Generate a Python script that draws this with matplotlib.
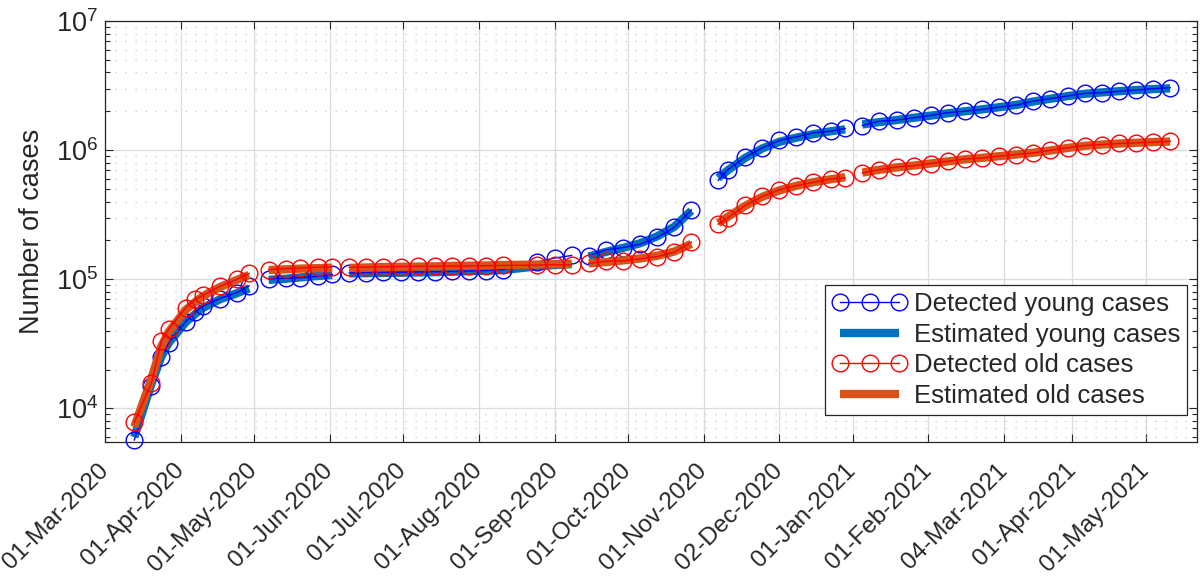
import numpy as np
import matplotlib
matplotlib.use("Agg")
import matplotlib.pyplot as plt
from matplotlib.lines import Line2D
from matplotlib.ticker import LogLocator, NullFormatter, NullLocator

plt.rcParams['font.family'] = ['Liberation Sans', 'DejaVu Sans']

# ---------------- data ----------------
dates = [
    # phase 1
    '2020-03-13', '2020-03-20', '2020-03-24', '2020-03-27', '2020-04-03',
    '2020-04-07', '2020-04-10', '2020-04-17', '2020-04-24', '2020-04-29',
    # phase 2
    '2020-05-07', '2020-05-14', '2020-05-20', '2020-05-27', '2020-06-02',
    # phase 3
    '2020-06-09', '2020-06-16', '2020-06-23', '2020-06-30', '2020-07-07',
    '2020-07-14', '2020-07-21', '2020-07-28', '2020-08-04', '2020-08-11',
    '2020-08-25', '2020-09-01', '2020-09-08',
    # phase 4
    '2020-09-15', '2020-09-22', '2020-09-29', '2020-10-06', '2020-10-13',
    '2020-10-20', '2020-10-27',
    # phase 5
    '2020-11-07', '2020-11-11', '2020-11-18', '2020-11-25', '2020-12-02',
    '2020-12-09', '2020-12-16', '2020-12-23', '2020-12-29',
    # phase 6
    '2021-01-05', '2021-01-12', '2021-01-19', '2021-01-26', '2021-02-02',
    '2021-02-09', '2021-02-16', '2021-02-23', '2021-03-02', '2021-03-09',
    '2021-03-16', '2021-03-23', '2021-03-30', '2021-04-06', '2021-04-13',
    '2021-04-20', '2021-04-27', '2021-05-04', '2021-05-11',
]
segment_sizes = [10, 5, 13, 7, 9, 19]

young_detected = [
    5700, 15000, 25000, 32000, 47000, 56000, 62000, 71000, 79000, 89000,
    100500, 102000, 103000, 105500, 109000,
    112000, 112500, 113000, 113500, 114000, 114500, 115000, 116000, 117000,
    119000, 136000, 146000, 153000,
    152000, 169000, 176000, 187000, 211000, 252000, 345000,
    583000, 707000, 881000, 1042000, 1188000, 1269000, 1362000, 1402000, 1472000,
    1552000, 1678000, 1708000, 1782000, 1857000, 1950000, 2006000, 2066000,
    2153000, 2232000, 2398000, 2505000, 2625000, 2754000, 2788000, 2853000,
    2920000, 2991000, 3046000,
]
young_estimated = [
    6000, 15500, 25000, 32000, 46500, 54000, 60000, 70000, 78000, 85000,
    99000, 101000, 103500, 106000, 108000,
    111000, 111500, 112000, 112500, 113000, 113500, 114500, 115500, 116500,
    118000, 126000, 129000, 131000,
    150000, 163000, 175000, 190000, 215000, 255000, 340000,
    610000, 700000, 870000, 1030000, 1160000, 1250000, 1330000, 1400000, 1450000,
    1580000, 1650000, 1710000, 1780000, 1850000, 1930000, 2000000, 2070000,
    2150000, 2240000, 2380000, 2500000, 2620000, 2730000, 2800000, 2860000,
    2920000, 2970000, 3010000,
]
old_detected = [
    7800, 15700, 33000, 41000, 60000, 70000, 75000, 88000, 100000, 111000,
    119000, 121000, 122500, 124000, 124500,
    124000, 124500, 125000, 125500, 126000, 126000, 126500, 127000, 127500,
    128000, 129000, 130000, 129000,
    133000, 138000, 139000, 144000, 150000, 162000, 194000,
    267000, 298000, 373000, 438000, 494000, 531000, 564000, 598000, 610000,
    667000, 707000, 741000, 759000, 787000, 820000, 856000, 871000, 897000,
    925000, 953000, 998000, 1042000, 1086000, 1106000, 1126000, 1140000,
    1152000, 1171000,
]
old_estimated = [
    7200, 17000, 30000, 39000, 58000, 67000, 74000, 87000, 99000, 108000,
    118000, 119500, 121000, 122000, 123000,
    122500, 123500, 124500, 125000, 125500, 126000, 127000, 127500, 128000,
    129000, 130000, 131000, 132000,
    133000, 136000, 140000, 145000, 152000, 164000, 188000,
    272000, 305000, 370000, 435000, 488000, 530000, 565000, 595000, 618000,
    670000, 705000, 735000, 760000, 788000, 818000, 850000, 872000, 898000,
    925000, 955000, 995000, 1040000, 1080000, 1105000, 1125000, 1140000,
    1155000, 1165000,
]

tick_dates = ['2020-03-01', '2020-04-01', '2020-05-01', '2020-06-01', '2020-07-01',
              '2020-08-01', '2020-09-01', '2020-10-01', '2020-11-01', '2020-12-02',
              '2021-01-01', '2021-02-01', '2021-03-04', '2021-04-01', '2021-05-01']
tick_labels = ['01-Mar-2020', '01-Apr-2020', '01-May-2020', '01-Jun-2020', '01-Jul-2020',
               '01-Aug-2020', '01-Sep-2020', '01-Oct-2020', '01-Nov-2020', '02-Dec-2020',
               '01-Jan-2021', '01-Feb-2021', '04-Mar-2021', '01-Apr-2021', '01-May-2021']

legend_labels = ['Detected young cases', 'Estimated young cases',
                 'Detected old cases', 'Estimated old cases']

# ---------------- styling ----------------
C_DET_Y = '#0000FF'
C_EST_Y = '#0072BD'
C_DET_O = '#FF0000'
C_EST_O = '#D95319'
AX_COL = '#262626'

fig = plt.figure(figsize=(12.03, 5.80), dpi=100)
ax = fig.add_axes([105 / 1203, (580 - 442) / 580, 1092 / 1203, 421 / 580])

x_all = np.array(dates, dtype='datetime64[D]')
yd = np.array(young_detected, float)
ye = np.array(young_estimated, float)
od = np.array(old_detected, float)
oe = np.array(old_estimated, float)

EST_LW = 6.0
MS = 12
DET_LW = 1.0
start = 0
for n in segment_sizes:
    sl = slice(start, start + n)
    xs = x_all[sl]
    ax.plot(xs, ye[sl], '-', color=C_EST_Y, lw=EST_LW, solid_capstyle='butt', zorder=2)
    ax.plot(xs, yd[sl], '-o', color=C_DET_Y, lw=DET_LW, ms=MS, mfc='none', mew=1.0,
            zorder=3, clip_on=False)
    ax.plot(xs, oe[sl], '-', color=C_EST_O, lw=EST_LW, solid_capstyle='butt', zorder=4)
    ax.plot(xs, od[sl], '-o', color=C_DET_O, lw=DET_LW, ms=MS, mfc='none', mew=1.0,
            zorder=5, clip_on=False)
    start += n

ax.set_yscale('log')
ax.set_ylim(5500, 1e7)
ax.set_xlim(np.datetime64('2020-03-01'), np.datetime64('2021-05-22'))

ax.set_xticks(np.array(tick_dates, dtype='datetime64[D]'))
ax.xaxis.set_minor_locator(NullLocator())
ax.set_xticklabels(tick_labels, rotation=45, ha='right', va='center',
                   rotation_mode='anchor', fontsize=17.5, color=AX_COL)
ax.yaxis.set_major_locator(LogLocator(base=10, numticks=10))
ax.yaxis.set_minor_locator(LogLocator(base=10, subs=np.arange(2, 10), numticks=20))
ax.yaxis.set_minor_formatter(NullFormatter())
ax.tick_params(axis='y', labelsize=19.5, colors=AX_COL)
ax.tick_params(axis='both', which='both', direction='in', top=True, right=True,
               color=AX_COL)
ax.tick_params(axis='both', which='major', length=6, width=0.8)
ax.tick_params(axis='y', which='minor', length=3.5, width=0.8)
ax.tick_params(axis='x', which='major', pad=18)
ax.tick_params(axis='y', which='major', pad=5)

ax.grid(True, which='major', color='#DCDCDC', lw=0.9, zorder=0)
ax.grid(True, which='minor', axis='y', color='#C4C4C4', lw=0.9,
        linestyle=(0, (1, 7)), zorder=0)
ax.set_axisbelow(True)
for s in ax.spines.values():
    s.set_color(AX_COL)
    s.set_linewidth(0.9)

ax.set_ylabel('Number of cases', fontsize=19.5, color=AX_COL, labelpad=8)

handles = [
    Line2D([], [], color=C_DET_Y, lw=DET_LW, marker='o', ms=MS, mfc='none', mew=1.0),
    Line2D([], [], color=C_EST_Y, lw=EST_LW, solid_capstyle='butt'),
    Line2D([], [], color=C_DET_O, lw=DET_LW, marker='o', ms=MS, mfc='none', mew=1.0),
    Line2D([], [], color=C_EST_O, lw=EST_LW, solid_capstyle='butt'),
]
leg = ax.legend(handles, legend_labels, loc='lower right',
                bbox_to_anchor=(0.991, 0.064), borderaxespad=0, fontsize=18.5,
                numpoints=3, handlelength=2.9, handletextpad=0.25,
                labelspacing=0.26, borderpad=0.28, fancybox=False, framealpha=1,
                edgecolor=AX_COL)
leg.get_frame().set_linewidth(0.9)
for t in leg.get_texts():
    t.set_color(AX_COL)

fig.savefig('out.png', dpi=100)
